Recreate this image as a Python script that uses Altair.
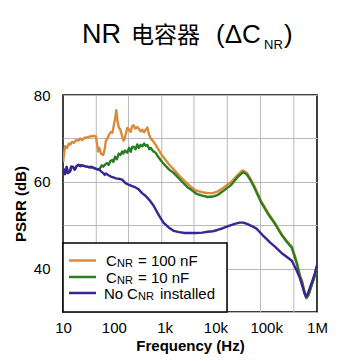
import altair as alt
import pandas as pd

# ---- data ----
f_100n = [10, 10.5, 11, 12, 13, 14, 15, 16.5, 18, 20, 22, 24, 26, 29.5, 33, 37, 41, 44.6, 47, 49.5,
          52, 56, 62, 66, 70, 75, 80, 88, 94, 100, 106, 112, 118, 125, 135, 146, 155, 162, 172, 184,
          200, 215, 230, 245, 265, 290, 312, 337, 365, 395, 424, 458, 490, 532, 600, 668, 722, 900,
          1228, 1523, 2095, 2845, 3311, 4159, 5500, 7096, 8913, 11220, 14000, 20560, 27000, 32510,
          35140, 38000, 42000, 50000, 58880, 80000, 110000, 146900, 200000, 260000, 319300, 400000,
          460300, 503800, 560000, 620000, 680000, 760000, 850000, 930000, 1000000]
psrr_100n = [64.5, 66.5, 68.2, 67.8, 68.8, 68.6, 69.2, 69.0, 69.6, 69.5, 70.0, 69.6, 70.1, 70.2, 70.4,
             70.5, 70.6, 70.4, 68.5, 67.0, 67.8, 66.5, 66.2, 67.5, 69.5, 70.0, 70.8, 71.5, 71.3, 73.0,
             74.5, 76.5, 74.0, 72.6, 72.0, 70.5, 69.5, 69.7, 71.0, 72.4, 72.0, 71.5, 72.8, 73.0, 72.3,
             72.6, 72.2, 71.6, 72.0, 71.4, 72.0, 72.5, 71.0, 70.0, 69.3, 68.5, 67.8, 66.0, 64.0, 62.8,
             61.0, 59.5, 58.8, 58.0, 57.6, 57.4, 57.4, 57.8, 58.5, 60.0, 61.5, 62.4, 62.6, 62.3, 62.0,
             60.5, 58.9, 55.5, 52.8, 50.6, 48.0, 46.2, 45.1, 41.5, 38.5, 37.3, 35.0, 33.3, 34.0, 35.8,
             37.5, 39.0, 40.5]

f_10n = [10, 10.5, 11, 11.8, 12.5, 13.8, 14.5, 15.8, 17, 18.5, 20, 23.5, 29.5, 37, 46.7, 50, 54, 58,
         62, 68, 73, 79, 86, 94, 98, 106, 115, 125, 135, 146, 155, 166, 184, 200, 215, 230, 245, 268,
         290, 312, 337, 365, 395, 424, 458, 500, 532, 600, 668, 722, 900, 1228, 1523, 2095, 2845, 3311,
         4159, 5500, 7096, 8913, 11220, 14000, 20560, 27000, 32510, 35140, 38000, 42000, 50000, 58880,
         80000, 110000, 146900, 200000, 260000, 319300, 400000, 460300, 503800, 560000, 620000,
         680000, 760000, 850000, 930000, 1000000]
psrr_10n = [61.5, 62.8, 61.8, 63.4, 62.0, 62.4, 63.5, 63.4, 62.8, 63.6, 63.9, 63.8, 63.5, 63.4, 62.9,
            62.8, 63.2, 63.8, 63.5, 64.0, 64.3, 63.9, 64.8, 65.0, 64.6, 65.8, 65.2, 66.5, 66.2, 67.0,
            66.5, 67.2, 66.7, 67.8, 66.9, 68.0, 68.1, 67.5, 68.6, 67.8, 68.5, 68.2, 68.8, 68.3, 68.5,
            67.5, 67.8, 67.0, 66.7, 66.0, 64.5, 62.8, 62.0, 60.3, 58.7, 58.2, 57.3, 56.8, 56.5, 56.6,
            57.0, 57.8, 59.3, 61.0, 61.9, 62.2, 62.0, 61.6, 60.2, 58.6, 55.2, 52.5, 50.4, 47.8, 46.0,
            44.8, 41.2, 38.2, 37.0, 34.8, 33.2, 33.9, 35.6, 37.3, 38.8, 40.3]

f_none = [10, 10.5, 11, 11.8, 12.5, 13.8, 14.5, 15.8, 17, 18.5, 20, 22, 23.5, 26, 29.5, 33, 37, 42,
          46.7, 52, 56, 62, 66, 70, 79, 88, 98, 110, 125, 146, 170, 200, 230, 268, 312, 360, 420, 493,
          600, 778, 950, 1228, 1500, 1941, 2500, 3300, 4159, 5500, 7000, 8913, 11000, 14000, 19050,
          24000, 30060, 35000, 42000, 52000, 64560, 90000, 120000, 146900, 200000, 260000, 319300,
          400000, 460300, 520000, 570000, 605000, 650000, 720000, 800000, 900000, 1000000]
psrr_none = [61.5, 62.8, 61.8, 63.4, 62.0, 62.4, 63.5, 63.4, 62.8, 63.6, 63.9, 63.6, 63.8, 63.6, 63.5,
             63.3, 63.4, 63.1, 62.9, 62.8, 62.4, 62.0, 61.6, 61.9, 61.5, 61.2, 61.0, 60.8, 60.7, 60.5,
             59.7, 59.3, 59.0, 58.7, 58.2, 57.4, 56.8, 55.9, 54.6, 52.2, 50.6, 49.4, 48.7, 48.4, 48.2,
             48.2, 48.2, 48.3, 48.5, 48.6, 48.9, 49.3, 49.9, 50.3, 50.6, 50.6, 50.3, 49.8, 49.2, 47.4,
             46.0, 45.1, 43.6, 42.6, 41.8, 39.5, 37.8, 35.8, 34.2, 33.5, 34.0, 35.5, 37.0, 38.8, 40.8]

x_ticks = [10, 100, 1000, 10000, 100000, 1000000]
x_tick_labels = ["10", "100", "1k", "10k", "100k", "1M"]
x_grid = [45.2, 195, 879, 3793, 17140, 77450, 350000]
y_ticks = [30, 40, 50, 60, 70, 80]

series_names = ["100nF", "10nF", "none"]
series_colors = ["#d98a3a", "#2b7d22", "#3a2596"]

# ---- build tables ----
df = pd.concat([
    pd.DataFrame({"f": f_100n, "psrr": psrr_100n, "s": "100nF"}),
    pd.DataFrame({"f": f_10n, "psrr": psrr_10n, "s": "10nF"}),
    pd.DataFrame({"f": f_none, "psrr": psrr_none, "s": "none"}),
])
df["i"] = range(len(df))

label_map = "{" + ",".join(f"'{v}':'{l}'" for v, l in zip(x_ticks, x_tick_labels)) + "}"

xscale = alt.Scale(type="log", domain=[10, 1000000], nice=False)
yscale = alt.Scale(domain=[30, 80], nice=False, zero=False)

FONT = "Liberation Sans"
CJK = "Noto Sans CJK SC"

xaxis = alt.Axis(values=x_ticks, grid=False, ticks=False, domain=False,
                 labelExpr=f"{label_map}[''+datum.value]",
                 labelFont=FONT, labelFontSize=15, labelColor="black",
                 labelPadding=8, labelFlush=False, titleFont=FONT,
                 titleFontSize=15, titleFontWeight="bold", titleColor="black",
                 titlePadding=3)
yaxis = alt.Axis(values=y_ticks, grid=True, gridColor="#b9b9b9", ticks=False,
                 domain=False,
                 labelExpr="datum.value % 20 == 0 ? datum.label : ''",
                 labelFont=FONT, labelFontSize=15, labelColor="black",
                 labelPadding=13, titleFont=FONT, titleFontSize=15,
                 titleFontWeight="bold", titleColor="black", titlePadding=5)

grid_x = alt.Chart(pd.DataFrame({"f": x_grid})).mark_rule(color="#b9b9b9", strokeWidth=1).encode(
    x=alt.X("f:Q", scale=xscale, axis=xaxis, title="Frequency (Hz)")
)

base = alt.Chart(df)
lines = []
for name, color in zip(series_names, series_colors):
    lines.append(
        base.transform_filter(alt.datum.s == name)
        .mark_line(color=color, strokeWidth=2.4, clip=True, strokeJoin="round")
        .encode(
            x=alt.X("f:Q", scale=xscale, title="Frequency (Hz)", axis=xaxis),
            y=alt.Y("psrr:Q", scale=yscale, title="PSRR (dB)", axis=yaxis),
            order="i:Q",
        )
    )

one = alt.Data(values=[{}])


def txt(text, x, y, size, font=FONT, baseline="alphabetic", weight="normal"):
    return alt.Chart(one).mark_text(text=text, font=font, fontSize=size, align="left",
                                    baseline=baseline, color="black", fontWeight=weight).encode(
        x=alt.value(x), y=alt.value(y))


# legend box
legend_box = alt.Chart(one).mark_rect(fill="white", stroke="black", strokeWidth=1.5).encode(
    x=alt.value(0), x2=alt.value(164), y=alt.value(148), y2=alt.value(217))

row_y = [165.5, 182, 198]
legend_layers = [legend_box]
for ry, color in zip(row_y, series_colors):
    legend_layers.append(
        alt.Chart(one).mark_rule(color=color, strokeWidth=2.5).encode(
            x=alt.value(6), x2=alt.value(33), y=alt.value(ry)))
legend_texts = [
    txt("C", 43, row_y[0] + 5.5, 15), txt("NR", 54, row_y[0] + 6.5, 11), txt("= 100 nF", 75, row_y[0] + 5.5, 15),
    txt("C", 43, row_y[1] + 5.5, 15), txt("NR", 54, row_y[1] + 6.5, 11), txt("= 10 nF", 75, row_y[1] + 5.5, 15),
    txt("No", 41, row_y[2] + 5.5, 15), txt("C", 64, row_y[2] + 5.5, 15),
    txt("NR", 75, row_y[2] + 6.5, 11), txt("installed", 97, row_y[2] + 5.5, 15),
]

title_texts = [
    txt("NR", 19, -52, 27),
    txt("电容器", 68, -52, 23, font=CJK),
    txt("(ΔC", 153, -52, 26),
    txt("NR", 201, -46, 13),
    txt(")", 221, -52, 26),
]

chart = alt.layer(grid_x, *lines, *legend_layers, *legend_texts, *title_texts).properties(
    width=254, height=217,
    padding={"left": 55, "top": 87, "right": 30, "bottom": 50},
    autosize="none",
    background="white",
).configure_view(stroke="black", strokeWidth=1.5)

chart.save("out.html", embed_options={"renderer": "svg", "actions": False})
